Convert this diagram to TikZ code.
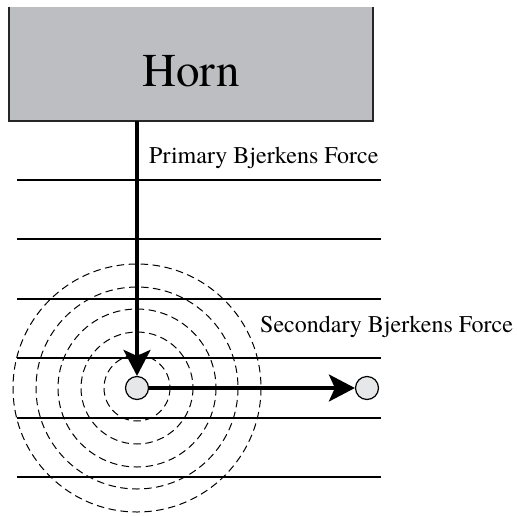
\documentclass[tikz,border=0pt]{standalone}
\usepackage{fontspec}
\setmainfont{texgyretermes}[Extension=.otf, UprightFont=*-regular, BoldFont=*-bold, ItalicFont=*-italic, BoldItalicFont=*-bolditalic]
\usetikzlibrary{arrows.meta}
\definecolor{horngray}{HTML}{BDBEC1}
\definecolor{bubblegray}{HTML}{E6E7E8}
\tikzset{
  field/.style={line width=1.3pt},
  wave/.style={dash pattern=on 7.5pt off 4.5pt, line width=1pt},
  force/.style={line width=3.3pt, -{Stealth[length=26pt,width=27pt,inset=6pt]}},
  bubble/.style={circle, draw, line width=1.2pt, fill=bubblegray, minimum size=23pt, inner sep=0pt},
  hornbox/.style={fill=horngray, minimum width=364pt, minimum height=114pt, inner sep=0pt},
  hornedge/.style={line width=1.8pt, color=black!85},
  hornlabel/.style={inner sep=0pt, font=\fontsize{47}{50}\selectfont},
  forcelabel/.style={anchor=west, inner sep=0pt, font=\fontsize{24}{26}\selectfont}
}
\begin{document}
\begin{tikzpicture}[x=1pt,y=-1pt]
\useasboundingbox (0,0) rectangle (517,515);
% field lines
\foreach \yy in {180,239,299,358,418,477}
  \draw[field] (17,\yy) -- (381,\yy);
% dashed circles
\foreach \r in {33,56,79,101,124}
  \draw[wave] (137,388) circle[radius=\r];
\node[hornbox] (horn) at (191,64) {};
\draw[hornedge] (horn.north west) -- (horn.south west) -- (horn.south east) -- (horn.north east);
\node[hornlabel] (hl) at (191,71) {Horn};
\node[bubble] (b1) at (137,388) {};
\node[bubble] (b2) at (367,388) {};
\draw[force] (horn.south -| b1) -- (b1.north);
\draw[force] (b1.east) -- (b2.west);
\node[forcelabel] (pl) at (149,158) {Primary Bjerkens Force};
\node[forcelabel] (sl) at (260,327) {Secondary Bjerkens Force};
\end{tikzpicture}
\end{document}
